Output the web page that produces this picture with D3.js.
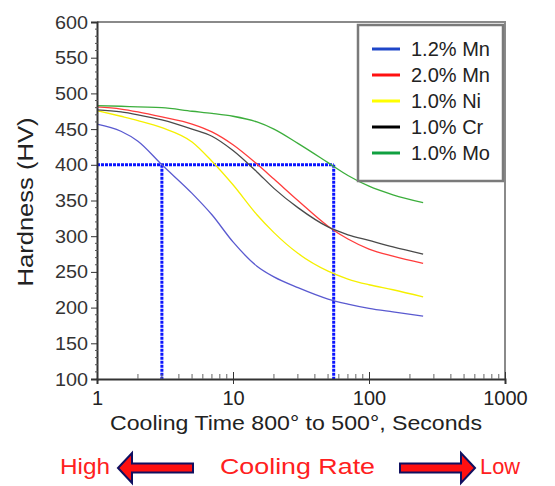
<!DOCTYPE html>
<html>
<head>
<meta charset="utf-8">
<script src="https://cdn.jsdelivr.net/npm/d3@7"></script>
<style>
  body { margin: 0; background: #fff; }
  svg text { font-family: "Liberation Sans", Arial, sans-serif; }
</style>
</head>
<body>
<svg id="chart" width="555" height="486"></svg>
<script>
// données
const times = [1, 1.5, 2, 3, 5, 7, 10, 15, 20, 30, 50, 70, 100, 150, 250];
const mn12 = [457, 447, 433, 400, 360, 330, 292, 258, 243, 228, 212, 205, 199, 194, 188];
const mn20 = [481, 478, 474, 467, 457, 446, 428, 401, 380, 350, 314, 296, 282, 272, 262];
const ni10 = [476, 468, 462, 452, 432, 405, 372, 330, 305, 276, 251, 240, 232, 225, 215];
const cr10 = [477, 474, 470, 463, 450, 440, 420, 390, 367, 340, 313, 302, 294, 285, 275];
const mo10 = [483, 482, 481, 480, 475, 472, 468, 460, 450, 430, 403, 385, 370, 358, 347];
const seriesNames = ["1.2% Mn", "2.0% Mn", "1.0% Ni", "1.0% Cr", "1.0% Mo"];
const yTicks = [100, 150, 200, 250, 300, 350, 400, 450, 500, 550, 600];
const xTicks = [1, 10, 100, 1000];
const guideHardness = 400;
const guideTimes = [3, 55];

const series = [
    { name: seriesNames[0], values: mn12, line: "#5a5ad0", key: "#1e46c8" },
    { name: seriesNames[1], values: mn20, line: "#ff3c3c", key: "#ff1010" },
    { name: seriesNames[2], values: ni10, line: "#f5f000", key: "#ffff00" },
    { name: seriesNames[3], values: cr10, line: "#4a4a4a", key: "#000000" },
    { name: seriesNames[4], values: mo10, line: "#3cae3c", key: "#10a040" }
];

const svg = d3.select("#chart");
const mLeft = 97, mRight = 505, mTop = 22, mBottom = 379;

const x = d3.scaleLog().domain([1, 1000]).range([mLeft, mRight]);
const y = d3.scaleLinear().domain([100, 600]).range([mBottom, mTop]);

// cadre haut / droite
svg.append("path")
    .attr("d", `M${mLeft},${mTop}H${mRight}V${mBottom}`)
    .attr("fill", "none")
    .attr("stroke", "#8a8a8a")
    .attr("stroke-width", 2);

// lignes de repère bleues
const guide = svg.append("g")
    .attr("stroke", "#0a14ff")
    .attr("stroke-width", 3)
    .attr("stroke-dasharray", "3,1")
    .attr("fill", "none");
guide.append("line")
    .attr("x1", mLeft).attr("x2", x(guideTimes[1]))
    .attr("y1", y(guideHardness)).attr("y2", y(guideHardness));
guideTimes.forEach(t => {
    guide.append("line")
        .attr("x1", x(t)).attr("x2", x(t))
        .attr("y1", y(guideHardness)).attr("y2", mBottom);
});

// courbes
const line = d3.line()
    .x((d, i) => x(times[i]))
    .y(d => y(d))
    .curve(d3.curveMonotoneX);

svg.selectAll("path.curve")
    .data(series)
    .join("path")
    .attr("class", "curve")
    .attr("d", d => line(d.values))
    .attr("fill", "none")
    .attr("stroke", d => d.line)
    .attr("stroke-width", 1.3);

// axe Y
const yAxis = svg.append("g")
    .attr("transform", `translate(${mLeft},0)`)
    .call(d3.axisLeft(y).tickValues(yTicks).tickSize(6).tickPadding(3));
yAxis.select(".domain").attr("stroke", "#333").attr("stroke-width", 2);
yAxis.selectAll(".tick line").attr("stroke", "#333");
yAxis.selectAll("text")
    .attr("fill", "#333")
    .style("font-size", "19px")
    .attr("textLength", 33)
    .attr("lengthAdjust", "spacingAndGlyphs");
// graduations mineures Y
svg.append("g")
    .selectAll("line")
    .data(d3.range(110, 600, 10).filter(v => v % 50 !== 0))
    .join("line")
    .attr("x1", mLeft - 2).attr("x2", mLeft + 1)
    .attr("y1", d => y(d)).attr("y2", d => y(d))
    .attr("stroke", "#555");

// axe X
const xAxis = svg.append("g")
    .attr("transform", `translate(0,${mBottom})`)
    .call(d3.axisBottom(x).tickValues(xTicks).tickFormat(d3.format("d")).tickSize(5));
xAxis.select(".domain").attr("stroke", "#333").attr("stroke-width", 2);
xAxis.selectAll(".tick line").attr("stroke", "#333").attr("y1", -7);
xAxis.selectAll("text")
    .attr("fill", "#222")
    .attr("y", 26)
    .attr("dy", null)
    .style("font-size", "20px");
// graduations mineures X
const minorX = [];
[1, 10, 100].forEach(dec => d3.range(2, 10).forEach(k => minorX.push(dec * k)));
svg.append("g")
    .selectAll("line")
    .data(minorX)
    .join("line")
    .attr("x1", d => x(d)).attr("x2", d => x(d))
    .attr("y1", mBottom - 5).attr("y2", mBottom)
    .attr("stroke", "#666");

// titres des axes
svg.append("text")
    .attr("x", 296).attr("y", 430)
    .attr("text-anchor", "middle")
    .attr("fill", "#222")
    .style("font-size", "21px")
    .attr("textLength", 372)
    .attr("lengthAdjust", "spacingAndGlyphs")
    .text("Cooling Time 800° to 500°, Seconds");

svg.append("text")
    .attr("transform", "translate(33,202) rotate(-90)")
    .attr("text-anchor", "middle")
    .attr("fill", "#222")
    .style("font-size", "22px")
    .attr("textLength", 169)
    .attr("lengthAdjust", "spacingAndGlyphs")
    .text("Hardness (HV)");

// légende
const legend = svg.append("g");
legend.append("rect")
    .attr("x", 358).attr("y", 25)
    .attr("width", 145).attr("height", 156)
    .attr("fill", "#fff")
    .attr("stroke", "#7a7a7a")
    .attr("stroke-width", 2.5);
const rows = legend.selectAll("g.row")
    .data(series)
    .join("g")
    .attr("class", "row")
    .attr("transform", (d, i) => `translate(0,${49 + i * 26})`);
rows.append("line")
    .attr("x1", 372).attr("x2", 400)
    .attr("stroke", d => d.key)
    .attr("stroke-width", 3);
rows.append("text")
    .attr("x", 411).attr("y", 7)
    .attr("fill", "#222")
    .style("font-size", "20px")
    .text(d => d.name);

// flèches "Cooling Rate"
const bar = svg.append("g")
    .attr("fill", "#ff2020")
    .style("font-size", "22px");
bar.append("text").attr("x", 60).attr("y", 474)
    .attr("textLength", 50).attr("lengthAdjust", "spacingAndGlyphs").text("High");
bar.append("text").attr("x", 220).attr("y", 474)
    .attr("textLength", 155).attr("lengthAdjust", "spacingAndGlyphs").text("Cooling Rate");
bar.append("text").attr("x", 480).attr("y", 474)
    .attr("textLength", 40).attr("lengthAdjust", "spacingAndGlyphs").text("Low");

const arrowPath = (tip, tail, cy, dir) => {
    const hl = 14, hh = 15, sh = 4.5;
    const neck = tip + dir * hl;
    return `M${tip},${cy} L${neck},${cy - hh} L${neck},${cy - sh} L${tail},${cy - sh} L${tail},${cy + sh} L${neck},${cy + sh} L${neck},${cy + hh} Z`;
};
bar.append("path")
    .attr("d", arrowPath(118, 193, 468, 1))
    .attr("fill", "#ff1010").attr("stroke", "#101060").attr("stroke-width", 2);
bar.append("path")
    .attr("d", arrowPath(475, 400, 468, -1))
    .attr("fill", "#ff1010").attr("stroke", "#101060").attr("stroke-width", 2);
</script>
</body>
</html>
